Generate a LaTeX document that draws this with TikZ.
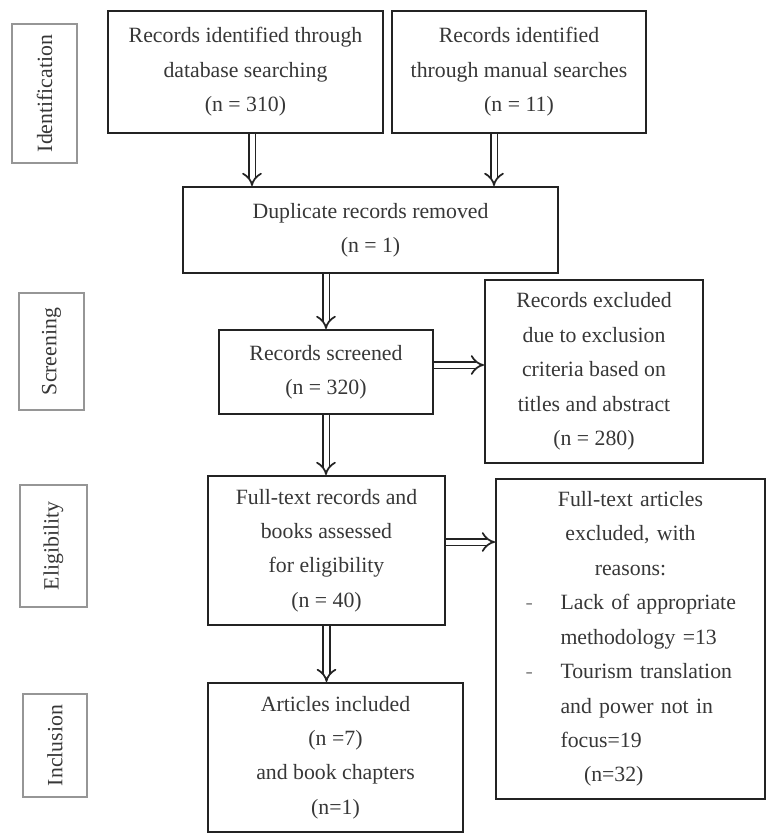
\documentclass[tikz,border=0pt]{standalone}
\usepackage{fontspec}
\setmainfont{Liberation Serif}
\usetikzlibrary{arrows.meta,calc}
\definecolor{boxline}{RGB}{35,35,35}
\definecolor{textgray}{RGB}{55,55,55}
\definecolor{stagegray}{RGB}{150,150,150}
\tikzset{
  stepnode/.style={draw=boxline, line width=1.1pt, align=center,
    text=textgray, inner sep=2pt},
  stagelabel/.style={draw=stagegray, line width=0.7pt, rotate=90,
    text=textgray, inner sep=0pt},
  flow/.style={draw=boxline, double, double distance=0.1cm,
    line width=1pt, -{Implies}}
}

\begin{document}
\begin{tikzpicture}[x=0.02cm,y=-0.02cm,font=\fontsize{12.4}{19.6}\selectfont]
  \useasboundingbox (0,0) rectangle (767,834);

  % Stage labels
  \node[stagelabel,minimum width=2.78cm,minimum height=1.3cm] (ident)
    at (44.5,93.5) {Identification};
  \node[stagelabel,minimum width=2.34cm,minimum height=1.3cm] (screen)
    at (51.5,351.5) {Screening};
  \node[stagelabel,minimum width=2.44cm,minimum height=1.34cm] (elig)
    at (53.5,546) {Eligibility};
  \node[stagelabel,minimum width=2.06cm,minimum height=1.28cm] (incl)
    at (55,745.5) {Inclusion};

  % Identification
  \node[stepnode,minimum width=5.5cm,minimum height=2.44cm] (dbrec)
    at (245.5,72) {Records identified through\\database searching\\(n = 310)};
  \node[stepnode,minimum width=5.08cm,minimum height=2.44cm] (manrec)
    at (519,72) {Records identified\\through manual searches\\(n = 11)};
  \node[stepnode,minimum width=7.5cm,minimum height=1.72cm] (dupl)
    at (370.5,230) {Duplicate records removed\\(n = 1)};

  % Screening
  \node[stepnode,minimum width=4.28cm,minimum height=1.68cm] (screened)
    at (326,372) {Records screened\\(n = 320)};
  \node[stepnode,minimum width=4.36cm,minimum height=3.66cm] (exclone)
    at (594,371.5) {Records excluded\\due to exclusion\\criteria based on\\titles and abstract\\(n = 280)};

  % Eligibility
  \node[stepnode,minimum width=4.74cm,minimum height=2.98cm] (fulltext)
    at (326.5,550.5) {Full-text records and\\books assessed\\for eligibility\\(n = 40)};
  \node[stepnode,minimum width=5.38cm,minimum height=6.4cm,text width=4.2cm,
    align=left] (excltwo) at (630.5,639) {%
    {\centering Full-text articles\\excluded, with\\reasons:\par}
    \mbox{\makebox[0.7cm][l]{\textcolor{textgray!60}{-}}Lack of appropriate}\\
    \mbox{\hspace*{0.7cm}methodology =13}\\
    \mbox{\makebox[0.7cm][l]{\textcolor{textgray!60}{-}}Tourism translation}\\
    \mbox{\hspace*{0.7cm}and power not in}\\
    \mbox{\hspace*{0.7cm}focus=19}\\
    \mbox{\hspace*{1.17cm}(n=32)}};

  % Inclusion
  \node[stepnode,minimum width=5.1cm,minimum height=2.98cm] (included)
    at (335.5,757.5) {Articles included\\(n =7)\\and book chapters\\(n=1)};

  % Flow arrows
  \draw[flow] ([xshift=0.13cm]dbrec.south)
    -- ([xshift=0.13cm]dbrec.south |- dupl.north);
  \draw[flow] ([xshift=-0.5cm]manrec.south)
    -- ([xshift=-0.5cm]manrec.south |- dupl.north);
  \draw[flow] (screened.north |- dupl.south) -- (screened.north);
  \draw[flow] ([yshift=0.14cm]screened.east)
    -- ([yshift=0.14cm]screened.east -| exclone.west);
  \draw[flow] (screened.south) -- (screened.south |- fulltext.north);
  \draw[flow] ([yshift=0.17cm]fulltext.east)
    -- ([yshift=0.17cm]fulltext.east -| excltwo.west);
  \draw[flow] (fulltext.south) -- (fulltext.south |- included.north);
\end{tikzpicture}
\end{document}
